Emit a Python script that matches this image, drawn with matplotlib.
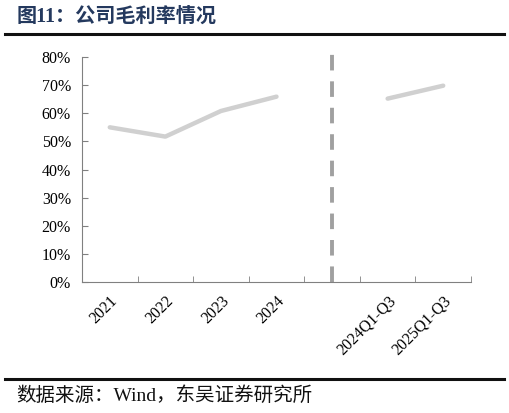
import matplotlib
matplotlib.use("Agg")
import matplotlib.pyplot as plt
import numpy as np
from matplotlib.lines import Line2D

categories = ["2021", "2022", "2023", "2024", "", "2024Q1-Q3", "2025Q1-Q3"]
annual_values = [55.0, 51.7, 60.8, 65.9]
ytd_values = [65.2, 69.8]
yticks = [0, 10, 20, 30, 40, 50, 60, 70, 80]

W, H = 509, 413
fig = plt.figure(figsize=(W / 100, H / 100), dpi=100)
ax = fig.add_axes([82 / W, 1 - 282 / H, (471 - 82) / W, (282 - 57) / H])

serif = ["Liberation Serif", "Noto Sans CJK SC"]
x = np.arange(len(categories))
line_kw = dict(color="#d0d0d0", lw=3.2, solid_capstyle="round")
ax.plot(x[:4], annual_values, **line_kw)
ax.plot(x[5:7], ytd_values, **line_kw)

ax.set_xlim(-0.5, len(categories) - 0.5)
ax.set_ylim(0, 80)
ax.set_yticks(yticks)
ax.set_yticklabels([f"{v}%" for v in yticks], fontfamily=serif, fontsize=11.5)
ax.set_xticks(x)
ax.set_xticklabels(categories, rotation=45, ha="right", rotation_mode="anchor",
                   fontfamily=serif, fontsize=11.5)
ax.tick_params(axis="x", length=0, pad=8)
ax.set_xticks(np.arange(-0.5, len(categories)), minor=True)
ax.tick_params(axis="x", which="minor", direction="in", length=4, color="#808080")
ax.tick_params(axis="y", direction="in", length=4, color="#808080", pad=8)
for s in ["top", "right"]:
    ax.spines[s].set_visible(False)
for s in ["left", "bottom"]:
    ax.spines[s].set_color("#808080")
    ax.spines[s].set_linewidth(0.8)

# dashed separator in the blank category
sep = Line2D([4, 4], [0, 84.5], transform=ax.transData, color="#a0a0a0", lw=2.8,
             linestyle=(0, (4, 2.8)), clip_on=False)
ax.add_line(sep)

# title and rules
fig.text(17 / W, 1 - 17 / H, "图11：公司毛利率情况", fontfamily=serif, fontsize=14.5,
         fontweight="bold", color="#24395e", va="center", ha="left")
fig.add_artist(Line2D([5 / W, 504 / W], [1 - 34 / H, 1 - 34 / H], color="#111111", lw=2.2))
fig.add_artist(Line2D([5 / W, 504 / W], [1 - 379 / H, 1 - 379 / H], color="#111111", lw=2.2))
fig.text(16 / W, 1 - 396 / H, "数据来源：Wind，东吴证券研究所", fontfamily=serif, fontsize=14,
         color="#111111", va="center", ha="left")

fig.savefig("out.png", dpi=100)
